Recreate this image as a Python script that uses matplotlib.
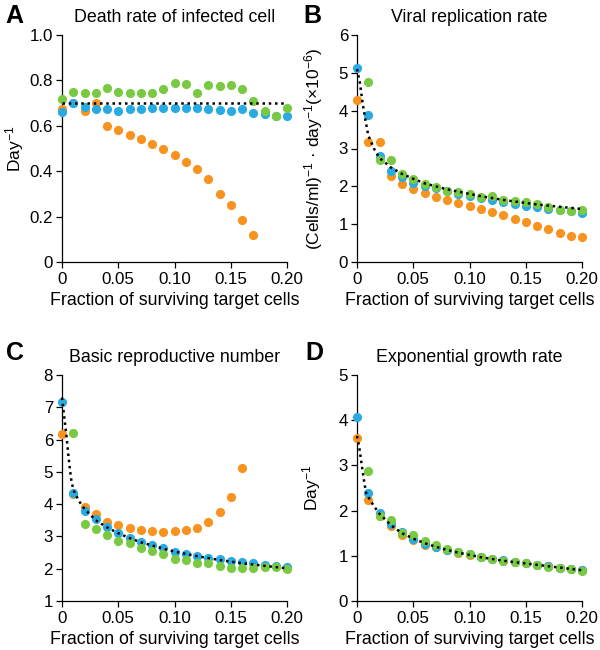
import numpy as np
import matplotlib
matplotlib.use("Agg")
import matplotlib.pyplot as plt

plt.rcParams['font.family'] = ['Liberation Sans', 'DejaVu Sans']
plt.rcParams['mathtext.fontset'] = 'custom'
plt.rcParams['mathtext.rm'] = 'Liberation Sans'
plt.rcParams['mathtext.it'] = 'Liberation Sans'

nan = np.nan
x = [0.00, 0.01, 0.02, 0.03, 0.04, 0.05, 0.06, 0.07, 0.08, 0.09, 0.10,
     0.11, 0.12, 0.13, 0.14, 0.15, 0.16, 0.17, 0.18, 0.19, 0.20]

# Panel A: death rate of infected cell
a_blue = [0.66, 0.70, 0.685, 0.675, 0.672, 0.667, 0.672, 0.675, 0.677, 0.678, 0.68,
          0.677, 0.677, 0.673, 0.668, 0.667, 0.672, 0.655, 0.65, 0.645, 0.642]
a_orange = [0.675, 0.70, 0.665, 0.70, 0.60, 0.58, 0.56, 0.543, 0.522, 0.50, 0.47,
            0.44, 0.41, 0.365, 0.30, 0.25, 0.187, 0.12, nan, nan, nan]
a_green = [0.716, 0.747, 0.745, 0.745, 0.768, 0.748, 0.745, 0.743, 0.745, 0.76, 0.79,
           0.785, 0.744, 0.78, 0.775, 0.778, 0.76, 0.71, 0.665, 0.645, 0.678]
a_fit_x = [0.0, 0.20]
a_fit_y = [0.70, 0.70]

# Panel B: viral replication rate
b_blue = [5.13, 3.88, 2.8, 2.4, 2.25, 2.08, 2.02, 1.95, 1.88, 1.8, 1.75,
          1.68, 1.63, 1.58, 1.53, 1.48, 1.45, 1.4, 1.37, 1.34, 1.3]
b_orange = [4.28, 3.18, 3.18, 2.27, 2.05, 1.92, 1.82, 1.73, 1.65, 1.57, 1.48,
            1.4, 1.33, 1.25, 1.13, 1.05, 0.95, 0.86, 0.76, 0.7, 0.66]
b_green = [nan, 4.75, 2.7, 2.7, 2.33, 2.2, 2.07, 1.97, 1.88, 1.85, 1.8,
           1.73, 1.75, 1.65, 1.6, 1.58, 1.52, 1.45, 1.37, 1.35, 1.37]
b_fit_x = [0.0, 0.0025, 0.005, 0.0075, 0.01, 0.015, 0.02, 0.03, 0.04, 0.05, 0.06, 0.07,
           0.08, 0.09, 0.10, 0.11, 0.12, 0.13, 0.14, 0.15, 0.16, 0.17, 0.18, 0.19, 0.20]
b_fit_y = [5.1, 4.75, 4.2, 3.75, 3.35, 3.0, 2.75, 2.5, 2.33, 2.2, 2.08, 2.0,
           1.92, 1.86, 1.8, 1.74, 1.69, 1.64, 1.6, 1.56, 1.52, 1.49, 1.46, 1.43, 1.40]

# Panel C: basic reproductive number
c_blue = [7.17, 4.36, 3.8, 3.54, 3.3, 3.12, 2.94, 2.82, 2.72, 2.63, 2.53,
          2.47, 2.4, 2.34, 2.29, 2.25, 2.2, 2.17, 2.13, 2.08, 2.06]
c_orange = [6.16, 4.3, 3.92, 3.7, 3.44, 3.35, 3.25, 3.2, 3.17, 3.15, 3.16,
            3.2, 3.27, 3.44, 3.77, 4.23, 5.13, nan, nan, nan, nan]
c_green = [nan, 6.19, 3.38, 3.22, 3.03, 2.87, 2.79, 2.65, 2.56, 2.45, 2.31,
           2.27, 2.19, 2.17, 2.08, 2.03, 2.03, 2.03, 2.04, 2.06, 1.98]
c_fit_x = [0.0, 0.002, 0.004, 0.006, 0.008, 0.01, 0.015, 0.02, 0.03, 0.04, 0.05, 0.06, 0.07,
           0.08, 0.09, 0.10, 0.11, 0.12, 0.13, 0.14, 0.15, 0.16, 0.17, 0.18, 0.19, 0.20]
c_fit_y = [7.3, 6.7, 6.1, 5.4, 4.8, 4.45, 4.1, 3.85, 3.5, 3.28, 3.1, 2.95, 2.82,
           2.72, 2.62, 2.53, 2.46, 2.39, 2.33, 2.27, 2.22, 2.17, 2.13, 2.09, 2.05, 2.01]

# Panel D: exponential growth rate
d_blue = [4.08, 2.38, 1.95, 1.7, 1.53, 1.38, 1.27, 1.2, 1.13, 1.08, 1.03,
          0.98, 0.94, 0.9, 0.86, 0.83, 0.8, 0.77, 0.74, 0.71, 0.68]
d_orange = [3.6, 2.23, 1.87, 1.65, 1.45, 1.35, 1.25, 1.19, 1.13, 1.07, 1.02,
            0.97, 0.93, 0.89, 0.86, 0.83, 0.8, 0.77, 0.74, 0.71, 0.68]
d_green = [nan, 2.88, 1.87, 1.8, 1.5, 1.47, 1.33, 1.23, 1.14, 1.09, 1.04,
           0.98, 0.94, 0.89, 0.86, 0.83, 0.8, 0.76, 0.74, 0.7, 0.67]
d_fit_x = [0.0, 0.002, 0.004, 0.006, 0.008, 0.01, 0.015, 0.02, 0.03, 0.04, 0.05, 0.06, 0.07,
           0.08, 0.09, 0.10, 0.11, 0.12, 0.13, 0.14, 0.15, 0.16, 0.17, 0.18, 0.19, 0.20]
d_fit_y = [3.65, 3.4, 3.05, 2.7, 2.4, 2.3, 2.1, 1.93, 1.68, 1.5, 1.38, 1.28, 1.2,
           1.13, 1.07, 1.02, 0.97, 0.93, 0.89, 0.86, 0.83, 0.8, 0.77, 0.74, 0.71, 0.68]

xticks = [0, 0.05, 0.10, 0.15, 0.20]
xticklabels = ["0", "0.05", "0.10", "0.15", "0.20"]

BLUE = "#29ABE2"
ORANGE = "#F7931E"
GREEN = "#7AC943"

fig = plt.figure(figsize=(6, 6.5), dpi=100)
W, H = 600, 650


def make_ax(l, r, t, b):
    return fig.add_axes([l / W, 1 - b / H, (r - l) / W, (b - t) / H])


panels = [
    dict(box=(62, 287, 35, 262), title="Death rate of infected cell", letter="A",
         lpos=(5, 23), ylim=(0, 1.0), yticks=[0, 0.2, 0.4, 0.6, 0.8, 1.0],
         yticklabels=["0", "0.2", "0.4", "0.6", "0.8", "1.0"],
         ylabel="Day$^{\\mathregular{-1}}$", ylx=-0.16,
         data=(a_orange, a_blue, a_green), fit=(a_fit_x, a_fit_y)),
    dict(box=(357, 582, 35, 262), title="Viral replication rate", letter="B",
         lpos=(303, 23), ylim=(0, 6), yticks=[0, 1, 2, 3, 4, 5, 6],
         yticklabels=["0", "1", "2", "3", "4", "5", "6"],
         ylabel="(Cells/ml)$^{\\mathregular{-1}}$ · day$^{\\mathregular{-1}}$(×10$^{\\mathregular{-6}}$)",
         ylx=-0.142,
         data=(b_orange, b_blue, b_green), fit=(b_fit_x, b_fit_y)),
    dict(box=(62, 287, 375, 601), title="Basic reproductive number", letter="C",
         lpos=(6, 360), ylim=(1, 8), yticks=[1, 2, 3, 4, 5, 6, 7, 8],
         yticklabels=["1", "2", "3", "4", "5", "6", "7", "8"],
         ylabel=None, ylx=None,
         data=(c_orange, c_blue, c_green), fit=(c_fit_x, c_fit_y)),
    dict(box=(357, 582, 375, 601), title="Exponential growth rate", letter="D",
         lpos=(305, 360), ylim=(0, 5), yticks=[0, 1, 2, 3, 4, 5],
         yticklabels=["0", "1", "2", "3", "4", "5"],
         ylabel="Day$^{\\mathregular{-1}}$", ylx=-0.15,
         data=(d_orange, d_blue, d_green), fit=(d_fit_x, d_fit_y)),
]

for p in panels:
    ax = make_ax(*p["box"])
    for vals, col in zip(p["data"], (ORANGE, BLUE, GREEN)):
        ax.plot(x, vals, 'o', color=col, ms=6.6, mew=0, clip_on=False, zorder=3)
    fx, fy = p["fit"]
    ax.plot(fx, fy, color="black", lw=1.8, linestyle=(0, (1, 1.5)),
            dash_capstyle="butt", clip_on=False, zorder=4)
    ax.set_xlim(0, 0.20)
    ax.set_ylim(*p["ylim"])
    ax.set_xticks(xticks)
    ax.set_xticklabels(xticklabels)
    ax.set_yticks(p["yticks"])
    ax.set_yticklabels(p["yticklabels"])
    for s in ("top", "right"):
        ax.spines[s].set_visible(False)
    for s in ("left", "bottom"):
        ax.spines[s].set_linewidth(0.9)
    ax.tick_params(direction="out", length=4, width=0.9, labelsize=12.2)
    ax.tick_params(axis="y", pad=2.4)
    ax.tick_params(axis="x", pad=3.5)
    ax.set_title(p["title"], fontsize=12.8, pad=9)
    ax.set_xlabel("Fraction of surviving target cells", fontsize=12.8, labelpad=3)
    if p["ylabel"]:
        ax.set_ylabel(p["ylabel"], fontsize=12.5)
        ax.yaxis.set_label_coords(p["ylx"], 0.5)
    lx, ly = p["lpos"]
    fig.text(lx / W, 1 - ly / H, p["letter"], fontsize=18, fontweight="bold",
             va="baseline", ha="left")

fig.savefig("out.png", dpi=100)
